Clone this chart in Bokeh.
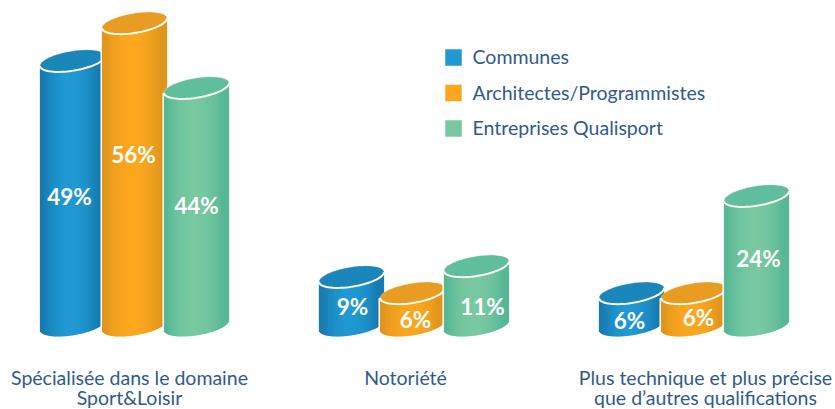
import numpy as np
from bokeh.plotting import figure
from bokeh.core.properties import value
from bokeh.embed import file_html
from bokeh.resources import INLINE

categories = ["Spécialisée dans le domaine\nSport&Loisir", "Notoriété",
              "Plus technique et plus précise\nque d’autres qualifications"]
series_names = ["Communes", "Architectes/Programmistes", "Entreprises Qualisport"]
communes = [49, 9, 6]
architectes = [56, 6, 6]
entreprises = [44, 11, 24]

W, H = 835, 409
PX = 5.4        # pixels per percentage point
BASE = 325      # pixel row of value 0


def vy(py):
    return (BASE - py) / PX


p = figure(width=W, height=H, x_range=(0, W), y_range=(vy(H), vy(0)),
           output_backend="svg", toolbar_location=None, min_border=0,
           outline_line_color=None, margin=(0, 0, 0, 0))
p.axis.visible = False
p.grid.visible = False
p.background_fill_color = "white"
p.border_fill_color = "white"

STYLES = [
    ("#177bb0", "#2099d2", "#1b86b9"),
    ("#e0961e", "#fca71f", "#e89d22"),
    ("#58b896", "#78c9a1", "#5fbe9c"),
]
CENTERS = [[72, 351, 631], [134, 412, 693], [196, 476, 756]]
A, B, SHEAR = 32.5, 9.9, 0.15
SERIES = [communes, architectes, entreprises]
LABEL_PX = [[196, 306, 320], [154, 319, 317], [205, 306, 258]]
LABEL_X = [[69, 352, 629], [133, 415, 698], [196, 482, 758]]


def hex_rgb(h):
    return np.array([int(h[i:i + 2], 16) for i in (1, 3, 5)], float)


def mix(c1, c2, t):
    c = hex_rgb(c1) * (1 - t) + hex_rgb(c2) * t
    return "#%02x%02x%02x" % tuple(int(round(v)) for v in c)


t = np.linspace(0, 2 * np.pi, 73)
for g in range(3):
    for s in range(3):
        val, cx = SERIES[s][g], CENTERS[s][g]
        edge, mid, top = STYLES[s]
        dxs = np.arange(-A + 0.5, A, 1.0)
        u = dxs / A
        bottoms = (SHEAR * dxs - B * np.sqrt(1 - u ** 2)) / PX
        tops = val + SHEAR * dxs / PX
        shade = np.clip(np.abs(u + 0.05) / 0.85, 0, 1) ** 2
        cols = [mix(mid, edge, v) for v in shade]
        c = np.cos(t[:37])
        p.varea(x=cx + (A + 1.5) * c,
                y1=val + (SHEAR * (A + 1.5) * c) / PX,
                y2=(SHEAR * (A + 1.5) * c - (B + 1.5) * np.sin(t[:37])) / PX,
                fill_color="white")
        p.vbar(x=cx + dxs, width=1.25, top=tops, bottom=bottoms,
               fill_color=cols, line_color=None)
        ex = A * np.cos(t)
        ey = B * np.sin(t) + SHEAR * ex
        p.patch(cx + ex, val + ey / PX, fill_color=top, line_color="#fffdf6",
                line_alpha=0.25, line_width=1)
        p.line(cx + ex[36:], val + ey[36:] / PX, line_color="#fdfaf0", line_width=2)

for s in range(3):
    for g in range(3):
        p.text(x=[LABEL_X[s][g]], y=[vy(LABEL_PX[s][g])],
               text=[f"{SERIES[s][g]}%"], text_color="white",
               text_font=value("Lato"), text_font_style="bold", text_font_size="22.5px",
               text_align="center", text_baseline="middle")

for i, name in enumerate(series_names):
    py = 57 + i * 35.5
    p.rect(x=[453], y=[vy(py)], width=16.5, height=16.5 / PX, fill_color=STYLES[i][1], line_color=None)
    p.text(x=[472], y=[vy(py - 1)], text=[name], text_color="#2f5a8f",
           text_font=value("Lato"), text_font_size="19.5px", text_baseline="middle")

for c, lx in zip(categories, [129, 405, 705]):
    for k, line in enumerate(c.split("\n")):
        p.text(x=[lx], y=[vy(377 + k * 20)], text=[line], text_color="#2f5a8f",
               text_font=value("Lato"), text_font_size="19.5px",
               text_align="center", text_baseline="middle")

open("out.html", "w").write(file_html(p, INLINE))
